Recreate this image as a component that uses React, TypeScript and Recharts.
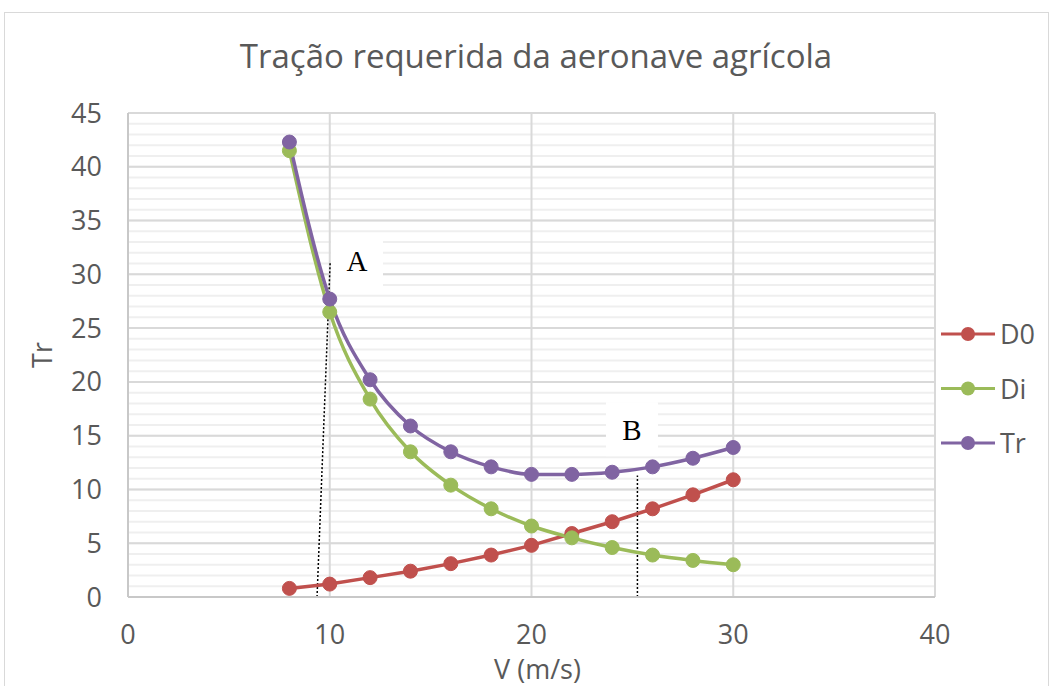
import {
  LineChart,
  Line,
  XAxis,
  YAxis,
  CartesianGrid,
  Legend,
  ReferenceLine,
  ReferenceDot,
  Label,
} from 'recharts';

// V (m/s)
const speeds = [8, 10, 12, 14, 16, 18, 20, 22, 24, 26, 28, 30];
const d0Values = [0.8, 1.2, 1.8, 2.4, 3.1, 3.9, 4.8, 5.9, 7.0, 8.2, 9.5, 10.9];
const diValues = [41.5, 26.5, 18.4, 13.5, 10.4, 8.2, 6.6, 5.5, 4.6, 3.9, 3.4, 3.0];
const trValues = [42.3, 27.7, 20.2, 15.9, 13.5, 12.1, 11.4, 11.4, 11.6, 12.1, 12.9, 13.9];

const xTicks = [0, 10, 20, 30, 40];
const yTicks = [0, 5, 10, 15, 20, 25, 30, 35, 40, 45];
const yMax = 45;
const minorY = Array.from({ length: 46 }, (_, i) => i);

const rows = speeds.map((v, i) => ({
  v,
  D0: d0Values[i],
  Di: diValues[i],
  Tr: trValues[i],
}));

const series = [
  { key: 'D0', color: '#C0504D', type: 'linear' as const },
  { key: 'Di', color: '#9BBB59', type: 'monotone' as const },
  { key: 'Tr', color: '#8064A2', type: 'monotone' as const },
];

const FONT = '"Open Sans", sans-serif';
const TEXT = '#595959';

// minor horizontal grid, one line per unit
function minorRows(p: any) {
  const sc = p?.yAxis?.scale;
  if (typeof sc === 'function') return minorY.map((v) => sc(v));
  const { top, height } = p.offset;
  return minorY.map((v) => top + height * (1 - v / yMax));
}

function LegendBox() {
  return (
    <svg width={113} height={170}>
      {series.map((s, i) => {
        const y = 27 + i * 54.5;
        return (
          <g key={s.key}>
            <line x1={3} x2={57} y1={y} y2={y} stroke={s.color} strokeWidth={3} />
            <circle cx={30} cy={y} r={7} fill={s.color} />
            <text x={62} y={y + 10} fontSize={27} fill={TEXT} fontFamily={FONT}>
              {s.key}
            </text>
          </g>
        );
      })}
    </svg>
  );
}

function Callout(props: any) {
  const { cx, cy, text } = props;
  return (
    <g>
      <rect x={cx - 25} y={cy - 27} width={52} height={54} fill="#ffffff" />
      <text
        x={cx + 1}
        y={cy + 11}
        textAnchor="middle"
        fontSize={29}
        fontFamily='"Liberation Serif", "Times New Roman", serif'
        fill="#000"
      >
        {text}
      </text>
    </g>
  );
}

export default function App() {
  return (
    <div
      style={{
        position: 'absolute',
        left: 0,
        top: 0,
        width: 1051,
        height: 686,
        overflow: 'hidden',
        background: '#fff',
      }}
    >
      <div
        style={{
          position: 'absolute',
          left: 4,
          top: 12,
          width: 1043,
          height: 720,
          border: '1px solid #d9d9d9',
        }}
      />
      <div
        style={{
          position: 'absolute',
          left: 0,
          top: 33,
          width: 1072,
          textAlign: 'center',
          fontFamily: FONT,
          fontSize: 33,
          color: TEXT,
        }}
      >
        Tração requerida da aeronave agrícola
      </div>
      <div style={{ position: 'absolute', left: 0, top: 0 }}>
        <LineChart
          width={1051}
          height={686}
          data={rows}
          margin={{ top: 113, right: 3, left: 28, bottom: 9 }}
        >
          <CartesianGrid
            vertical={false}
            horizontalCoordinatesGenerator={minorRows}
            stroke="#efefef"
            strokeWidth={2}
          />
          <CartesianGrid
            verticalValues={xTicks}
            stroke="#d9d9d9"
            strokeWidth={2}
          />
          <XAxis
            dataKey="v"
            type="number"
            domain={[0, 40]}
            ticks={xTicks}
            height={80}
            tickLine={false}
            tickSize={0}
            tickMargin={28}
            axisLine={{ stroke: '#c8c8c8', strokeWidth: 2 }}
            tick={{ fill: TEXT, fontSize: 27, fontFamily: FONT }}
          >
            <Label
              content={(p: any) => {
                const vb = p.viewBox;
                return (
                  <text
                    x={vb.x + vb.width / 2 + 6}
                    y={vb.y + 82}
                    textAnchor="middle"
                    fontSize={27}
                    fill={TEXT}
                    fontFamily={FONT}
                  >
                    V (m/s)
                  </text>
                );
              }}
            />
          </XAxis>
          <YAxis
            type="number"
            domain={[0, yMax]}
            ticks={yTicks}
            width={100}
            tickLine={false}
            tickSize={0}
            tickMargin={26}
            axisLine={{ stroke: '#c8c8c8', strokeWidth: 2 }}
            tick={{ fill: TEXT, fontSize: 27, fontFamily: FONT }}
          >
            <Label
              content={(p: any) => {
                const vb = p.viewBox;
                const x = vb.x + 13;
                const y = vb.y + vb.height / 2;
                return (
                  <text
                    x={x}
                    y={y}
                    transform={`rotate(-90 ${x} ${y})`}
                    textAnchor="middle"
                    dominantBaseline="central"
                    fontSize={27}
                    fill={TEXT}
                    fontFamily={FONT}
                  >
                    Tr
                  </text>
                );
              }}
            />
          </YAxis>
          <Legend
            layout="vertical"
            align="right"
            verticalAlign="middle"
            content={() => <LegendBox />}
            wrapperStyle={{ left: 938, top: 307, width: 113, height: 170 }}
          />
          <ReferenceLine
            segment={[
              { x: 9.37, y: 0 },
              { x: 10.02, y: 31.1 },
            ]}
            stroke="#000"
            strokeWidth={1.5}
            strokeDasharray="2 2"
          />
          <ReferenceLine
            segment={[
              { x: 25.25, y: 0 },
              { x: 25.25, y: 11.3 },
            ]}
            stroke="#000"
            strokeWidth={1.5}
            strokeDasharray="2 2"
          />
          <ReferenceDot x={11.3} y={31.3} r={0} shape={(p: any) => <Callout {...p} text="A" />} />
          <ReferenceDot x={24.93} y={15.6} r={0} shape={(p: any) => <Callout {...p} text="B" />} />
          {series.map((s) => (
            <Line
              key={s.key}
              dataKey={s.key}
              type={s.type}
              stroke={s.color}
              strokeWidth={3.5}
              dot={{ r: 7, fill: s.color, stroke: s.color, strokeWidth: 1 }}
              activeDot={false}
              isAnimationActive={false}
            />
          ))}
        </LineChart>
      </div>
    </div>
  );
}
